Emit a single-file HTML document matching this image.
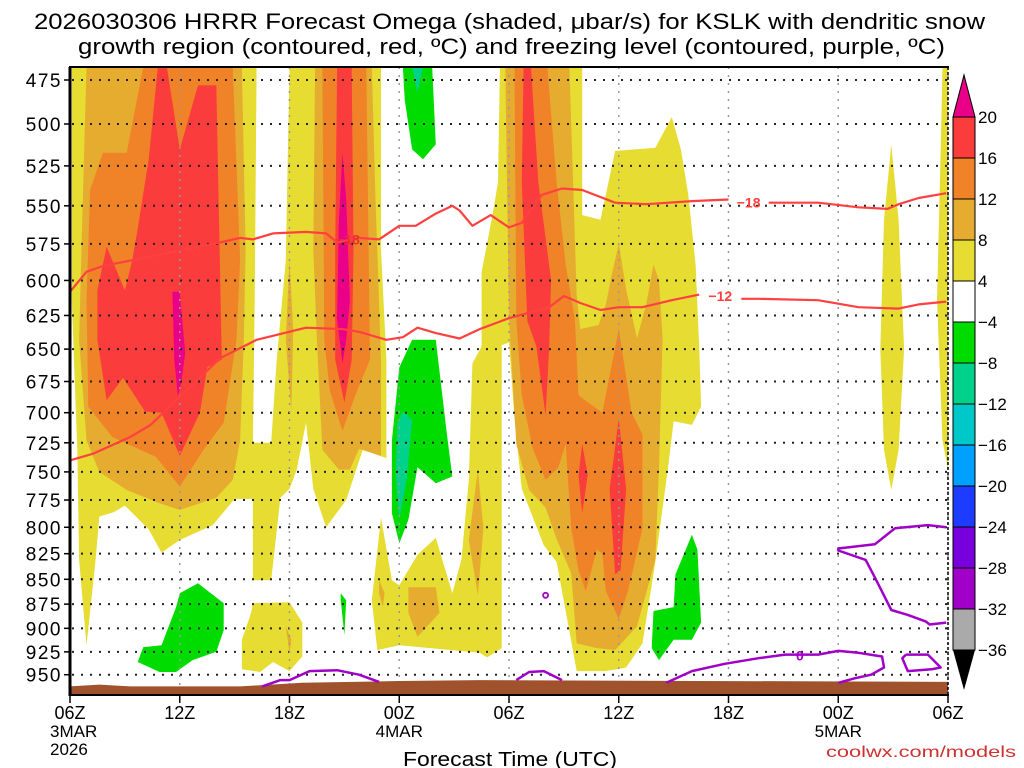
<!DOCTYPE html>
<html><head><meta charset="utf-8"><style>
html,body{margin:0;padding:0;background:#fff;width:1024px;height:768px;overflow:hidden}
svg text{font-family:"Liberation Sans",sans-serif}
</style></head><body>
<svg id="chart" width="1024" height="768" viewBox="0 0 1024 768" xmlns="http://www.w3.org/2000/svg">
<text x="34" y="29" font-size="22" textLength="951" lengthAdjust="spacingAndGlyphs" fill="#000">2026030306 HRRR Forecast Omega (shaded, μbar/s) for KSLK with dendritic snow</text>
<text x="78" y="54" font-size="22" textLength="867" lengthAdjust="spacingAndGlyphs" fill="#000">growth region (contoured, red, ºC) and freezing level (contoured, purple, ºC)</text>
<defs><clipPath id="plotclip"><rect x="70" y="67" width="878" height="628"/></clipPath></defs>
<g id="fills" clip-path="url(#plotclip)"></g>
<g id="grid"></g>
<g id="ground" clip-path="url(#plotclip)"></g>
<g id="contours" clip-path="url(#plotclip)"></g>
<g id="axes"></g>
<g id="colorbar"></g>
<text x="403" y="766" font-size="20" textLength="214" lengthAdjust="spacingAndGlyphs" fill="#000">Forecast Time (UTC)</text>
<text x="826" y="757" font-size="16" textLength="190" lengthAdjust="spacingAndGlyphs" fill="#d03030">coolwx.com/models</text>
</svg>
<script>
// ---- data (hours since 06Z 3 Mar, pressure hPa) ----
const pressureLevels = [475,500,525,550,575,600,625,650,675,700,725,750,775,800,825,850,875,900,925,950];
const timeTickHours = [0,6,12,18,24,30,36,42,48];
const timeTickLabels = ["06Z","12Z","18Z","00Z","06Z","12Z","18Z","00Z","06Z"];
const dateLabels = [[0,"3MAR"],[18,"4MAR"],[42,"5MAR"]];
const cbLevels = [20,16,12,8,4,-4,-8,-12,-16,-20,-24,-28,-32,-36];
const cbColors = ["#fa3c3c","#f08228","#e6ac2f","#e6dc32","#ffffff","#00dc00","#00d28c","#00c8c8","#00a0ff","#1e3cff","#7800dc","#a000c8","#aaaaaa"];

const yellowAB = [[0.1,468],[10.2,468],[10.1,614],[10.0,725],[11.0,725],[11.3,658],[11.8,586],[12.0,468],[17.0,468],[17.0,579],[17.3,658],[17.3,738],[16.0,731],[15.1,775],[14.0,800],[13.3,765],[12.9,708],[12.4,748],[12.0,765],[11.5,773],[11.0,851],[10.0,851],[10.0,774],[9.0,774],[7.8,798],[6.0,812],[5.0,824],[4.3,802],[3.0,780],[2.4,786],[1.6,790],[1.4,831],[0.9,918],[0.5,831],[0.4,731],[0.1,614]];
const yellowF = [[10.0,874],[12.0,873],[12.7,894],[12.7,930],[12.0,946],[11.1,936],[10.4,947],[9.4,944],[9.4,912],[9.9,884]];
const yellowCG = [[23.5,468],[28.0,468],[28.0,556],[29.0,559],[29.8,516],[32.0,514],[32.9,496],[33.4,515],[33.8,543],[34.2,589],[34.4,648],[34.5,695],[34.0,710],[33.0,707],[32.7,746],[32.0,833],[31.3,916],[30.4,942],[29.3,946],[27.7,946],[27.3,903],[26.6,833],[25.9,817],[24.7,765],[24.3,705],[24.0,645],[23.6,647],[23.6,921],[22.8,931],[22.4,926],[18.0,918],[16.8,923],[16.5,871],[17.0,791],[17.6,851],[18.0,856],[19.0,826],[20.0,810],[20.9,864],[21.4,831],[21.8,757],[22.0,661],[22.5,648],[22.5,594],[23.1,556],[23.4,535]];
const yellowH = [[44.9,512],[45.3,559],[45.6,650],[45.3,731],[44.9,766],[44.5,731],[44.3,650],[44.5,559]];
const yellowEdge = [[47.7,468],[48,468],[48,748],[47.7,723],[47.4,614],[47.6,515]];

const goldA = [[0.9,468],[9.4,468],[9.6,579],[9.5,643],[9.3,723],[8.9,757],[8.0,773],[6.0,784],[4.9,778],[3.1,766],[1.6,750],[0.9,723],[0.5,643],[0.7,546]];
const goldB = [[13.4,468],[16.5,468],[16.7,546],[17.0,658],[17.0,736],[15.8,730],[15.3,748],[14.7,748],[13.8,731],[13.5,643],[13.3,579]];
const goldB2 = [[12.0,585],[12.2,636],[12.1,699],[11.8,643]];
const goldF = [[11.8,898],[12.1,912],[12.0,926],[11.9,912]];
const goldG1 = [[18.5,858],[20.0,858],[20.2,884],[19.0,909],[18.5,884]];
const goldG2 = [[16.9,851],[17.2,864],[17.1,878],[16.9,864]];
const goldG3 = [[22.3,748],[22.6,801],[22.3,866],[21.8,812]];
const goldC = [[23.8,468],[24.0,628],[24.4,726],[25.1,766],[26.0,782],[26.6,811],[27.4,844],[27.7,916],[28.8,921],[29.8,923],[31.0,898],[32.0,831],[32.2,746],[32.4,642],[32.2,600],[31.9,589],[31.5,617],[31.0,642],[30.4,606],[30.0,575],[29.6,597],[29.3,617],[28.9,632],[27.9,635],[27.7,611],[27.3,468]];

const orangeA = [[4.0,468],[8.9,468],[9.3,586],[9.1,643],[8.4,708],[7.3,731],[6.0,763],[4.7,737],[2.3,720],[1.0,695],[0.9,614],[1.1,540],[1.8,517],[3.1,517]];
const orangeB = [[13.8,468],[16.2,468],[16.4,658],[15.7,682],[14.9,715],[14.2,682],[13.9,643]];
const orangeC = [[24.3,468],[26.1,468],[26.6,535],[27.1,589],[27.6,628],[27.8,686],[29.1,700],[30.0,635],[30.7,700],[31.3,718],[31.3,801],[30.5,862],[30.0,890],[29.3,862],[29.1,825],[28.8,821],[28.2,862],[27.8,841],[27.4,801],[27.1,726],[26.7,746],[26.0,757],[25.3,730],[24.7,686],[24.4,628]];

const redA = [[4.8,468],[5.3,468],[6.0,515],[7.0,478],[8.0,478],[8.3,658],[7.5,664],[7.1,700],[6.0,736],[5.0,700],[4.1,699],[2.9,672],[2.0,690],[1.5,643],[1.5,607],[2.0,577],[3.0,607],[3.4,586],[3.7,565],[4.3,521]];
const redB = [[14.6,468],[15.4,468],[15.5,579],[15.4,658],[15.0,692],[14.5,658],[14.5,579]];
const redC1 = [[24.8,468],[25.2,468],[25.6,535],[26.3,600],[26.2,648],[26.0,702],[25.5,648],[25.0,629],[24.7,535]];
const redC2 = [[28.0,726],[28.3,753],[28.0,787],[27.8,753]];
const redC3 = [[30.0,705],[30.4,765],[30.1,841],[29.8,845],[29.5,765]];

const magentaA = [[5.6,608],[6.0,608],[6.3,653],[6.1,674],[5.9,687],[5.7,658]];
const magentaB = [[14.9,517],[15.1,546],[15.3,614],[15.1,643],[14.9,661],[14.6,628],[14.7,559]];

const greenC = [[18.2,468],[19.8,468],[20.0,512],[19.3,521],[18.7,515],[18.3,486]];
const greenD = [[18.7,643],[20.0,643],[20.6,717],[20.9,754],[20.0,760],[19.0,746],[18.5,793],[18.0,815],[17.6,787],[17.6,723],[18.0,664]];
const greenE = [[7.0,854],[8.4,874],[8.4,902],[8.0,925],[6.7,934],[5.8,947],[4.9,947],[3.7,936],[4.0,920],[5.0,918],[5.8,878],[6.0,864]];
const greenSpike = [[14.8,864],[15.1,871],[15.0,907],[14.8,871]];
const greenF = [[34.0,807],[34.3,821],[34.5,894],[34.0,912],[33.0,912],[32.2,934],[31.8,921],[31.9,882],[33.0,878],[33.1,845]];
const tealC = [[18.7,468],[19.3,468],[19.0,482]];
const tealD = [[18.2,699],[18.7,706],[18.4,757],[18.0,793],[17.8,752],[17.9,708]];

const minus18a = [[0,608],[0.9,594],[1.8,590],[3.4,586],[8.2,574],[9.3,571],[10.0,572],[11.1,568],[12.9,567],[14.0,568],[14.6,574],[15.8,571],[16.9,572],[18.0,563],[18.9,563],[20.0,555],[20.9,550],[21.3,553],[22.0,563],[23.0,556],[24.0,564],[24.7,561],[25.8,543],[26.9,539],[28.0,540],[29.8,548],[31.5,549],[34.0,547],[36.0,546]];
const minus18b = [[38.2,548],[40.9,548],[43.1,551],[44.7,552],[45.3,549],[46.4,545],[47.9,542]];
const minus12a = [[0,740],[1.3,734],[3.3,720],[4.4,710],[5.1,700],[8.2,657],[10.2,643],[12.9,634],[14.9,635],[15.8,637],[17.3,643],[18.2,641],[19.0,634],[20.0,638],[21.3,642],[22.4,635],[24.0,627],[25.1,623],[26.2,619],[27.0,611],[27.9,616],[29.0,621],[30.0,619],[31.3,619],[32.9,614],[34.4,610]];
const minus12b = [[36.7,613],[37.6,613],[40.9,614],[43.1,619],[45.3,620],[46.4,617],[47.9,615]];
const freeze1 = [[10.5,963],[11.5,956],[12.0,956],[13.1,946],[14.6,945],[15.8,950],[16.9,958]];
const freeze2 = [[24.4,956],[25.1,947],[25.9,946],[26.9,956]];
const freeze3 = [[32.6,959],[34.0,946],[35.8,938],[37.6,932],[39.1,928],[40.9,928],[42.0,924],[43.1,926],[44.4,930],[44.5,942],[43.8,950],[42.9,954],[42.0,959]];
const freeze4 = [[45.7,928],[46.9,928],[47.6,942],[47.1,944],[45.8,946],[45.5,932],[45.7,928]];
const freeze5 = [[47.9,800],[46.9,798],[45.1,801],[44.0,816],[42.0,820],[42.0,822],[43.5,831],[44.0,848],[44.9,881],[45.8,886],[46.8,893],[47.0,896],[47.9,894]];
const freezeDot = [26.0,866];
const groundTop = [[0,963],[1.6,961],[3.3,963],[9.3,963],[12.7,959],[18,957],[22.4,956],[48,958]];

// ---- scales ----
const X0=70, PXH=878/48;
function xs(h){return X0+h*PXH;}
function ys(p){return 80+858*Math.log(p/475);}
const NS="http://www.w3.org/2000/svg";
function mk(tag,parent){const e=document.createElementNS(NS,tag);parent.appendChild(e);return e;}
function pts(a){return a.map(d=>xs(d[0]).toFixed(1)+","+ys(d[1]).toFixed(1)).join(" ");}

const fills=document.getElementById('fills');
function poly(arr,color,name){
  const e=mk('polygon',fills);
  
  
  e.setAttribute('points',pts(arr));e.setAttribute('fill',color);
}
const YEL="#e6dc32",GOLD="#e6ac2f",ORG="#f08228",RED="#fa3c3c",MAG="#ea0088",GRN="#00dc00",TEAL="#00d28c";
[yellowAB,yellowF,yellowCG,yellowH,yellowEdge].forEach(a=>poly(a,YEL,'omega-4-8'));
[goldA,goldB,goldB2,goldF,goldG1,goldG2,goldG3,goldC].forEach(a=>poly(a,GOLD,'omega-8-12'));
[orangeA,orangeB,orangeC].forEach(a=>poly(a,ORG,'omega-12-16'));
[redA,redB,redC1,redC2,redC3].forEach(a=>poly(a,RED,'omega-16-20'));
[magentaA,magentaB].forEach(a=>poly(a,MAG,'omega-above-20'));
[greenC,greenD,greenE,greenSpike,greenF].forEach(a=>poly(a,GRN,'omega-minus-4-8'));
[tealC,tealD].forEach(a=>poly(a,TEAL,'omega-minus-8-12'));

// grid
const grid=document.getElementById('grid');
pressureLevels.forEach(p=>{
  const l=mk('line',grid);
  
  
  l.setAttribute('x1',72);l.setAttribute('x2',948);l.setAttribute('y1',ys(p));l.setAttribute('y2',ys(p));
  l.setAttribute('stroke','#222');l.setAttribute('stroke-width','2');l.setAttribute('stroke-dasharray','2 7');
});
timeTickHours.forEach(h=>{
  const l=mk('line',grid);
  
  
  l.setAttribute('x1',xs(h));l.setAttribute('x2',xs(h));l.setAttribute('y1',67);l.setAttribute('y2',695);
  l.setAttribute('stroke','#999');l.setAttribute('stroke-width','1.5');l.setAttribute('stroke-dasharray','2 6');
});

// ground
const gnd=document.getElementById('ground');
const gp=mk('polygon',gnd);


gp.setAttribute('points',pts(groundTop)+" "+xs(48)+",700 "+xs(0)+",700");
gp.setAttribute('fill','#a0522d');

// contour lines
const cg=document.getElementById('contours');
function line(arr,color,w,name){
  const e=mk('polyline',cg);
  
  
  e.setAttribute('points',pts(arr));e.setAttribute('fill','none');e.setAttribute('stroke',color);
  e.setAttribute('stroke-width',w);e.setAttribute('stroke-linejoin','round');
}
const RL="#ff4040",PL="#a000c8";
[minus18a,minus18b].forEach(a=>line(a,RL,2.2,'contour-minus-18'));
[minus12a,minus12b].forEach(a=>line(a,RL,2.2,'contour-minus-12'));
[freeze1,freeze2,freeze3,freeze4,freeze5].forEach(a=>line(a,PL,2.5,'freezing-level-contour'));
const dot=mk('circle',cg);


dot.setAttribute('cx',xs(freezeDot[0]));dot.setAttribute('cy',ys(freezeDot[1]));dot.setAttribute('r',2.5);
dot.setAttribute('fill','none');dot.setAttribute('stroke',PL);dot.setAttribute('stroke-width',1.8);
function clabel(txt,h,p,color,name){
  const t=mk('text',cg);
  
  
  t.setAttribute('x',xs(h));t.setAttribute('y',ys(p)+5);t.setAttribute('font-size','14');t.setAttribute('font-weight','bold');
  t.setAttribute('text-anchor','middle');t.setAttribute('fill',color);t.textContent=txt;
}
clabel("−18",37.1,548,RL,'contour-label-minus-18');
clabel("−12",35.55,611,RL,'contour-label-minus-12');
clabel("−18",15.2,572,"#e83030",'contour-label-minus-18-b');
clabel("0",39.9,929,PL,'contour-label-zero');

// axes
const ax=document.getElementById('axes');
function axLine(x1,y1,x2,y2,w,dash,name){
  const l=mk('line',ax);
  
  
  l.setAttribute('x1',x1);l.setAttribute('y1',y1);l.setAttribute('x2',x2);l.setAttribute('y2',y2);
  l.setAttribute('stroke','#000');l.setAttribute('stroke-width',w);if(dash)l.setAttribute('stroke-dasharray',dash);
}
axLine(69,67,949,67,2,null,'plot-top-border');
axLine(70,67,70,696,3,null,'y-axis-line');
axLine(948,67,948,696,1.5,'3 2','plot-right-border');
axLine(69,695,949,695,2,null,'x-axis-line');
pressureLevels.forEach(p=>{
  axLine(64,ys(p),70,ys(p),1.5,null,'y-tick');
  const t=mk('text',ax);
  
  
  t.setAttribute('x',62);t.setAttribute('y',ys(p)+7);t.setAttribute('font-size','19');t.setAttribute('text-anchor','end');
  t.setAttribute('letter-spacing','1.5');
  t.textContent=p;
});
timeTickHours.forEach((h,i)=>{
  axLine(xs(h),695,xs(h),703,1.5,null,'x-tick');
  const t=mk('text',ax);
  
  
  t.setAttribute('x',xs(h));t.setAttribute('y',719);t.setAttribute('font-size','18');t.setAttribute('text-anchor','middle');
  t.textContent=timeTickLabels[i];
});
dateLabels.forEach(d=>{
  const t=mk('text',ax);
  
  
  t.setAttribute('x',d[0]===0?50:xs(d[0]));t.setAttribute('y',737);t.setAttribute('font-size','17');
  t.setAttribute('text-anchor',d[0]===0?'start':'middle');t.textContent=d[1];
});
const yr=mk('text',ax);


yr.setAttribute('x',50);yr.setAttribute('y',755);yr.setAttribute('font-size','17');yr.textContent="2026";

// colorbar
const cb=document.getElementById('colorbar');
const CBX=953,CBW=22,CBT=117,CBH=41;
const tri1=mk('polygon',cb);


tri1.setAttribute('points',`${CBX},${CBT} ${CBX+CBW},${CBT} ${CBX+CBW/2},75`);
tri1.setAttribute('fill',MAG);tri1.setAttribute('stroke','#000');
cbColors.forEach((c,i)=>{
  const r=mk('rect',cb);
  
  
  r.setAttribute('x',CBX);r.setAttribute('y',CBT+i*CBH);r.setAttribute('width',CBW);r.setAttribute('height',CBH);
  r.setAttribute('fill',c);r.setAttribute('stroke','#000');r.setAttribute('stroke-width','1');
});
const tri2=mk('polygon',cb);


const cbBot=CBT+cbColors.length*CBH;
tri2.setAttribute('points',`${CBX},${cbBot} ${CBX+CBW},${cbBot} ${CBX+CBW/2},690`);
tri2.setAttribute('fill','#000');
cbLevels.forEach((v,i)=>{
  const t=mk('text',cb);
  
  
  t.setAttribute('x',978);t.setAttribute('y',CBT+i*CBH+6);t.setAttribute('font-size','17');
  t.textContent=v<0?"−"+(-v):String(v);
});
</script>
</body></html>
